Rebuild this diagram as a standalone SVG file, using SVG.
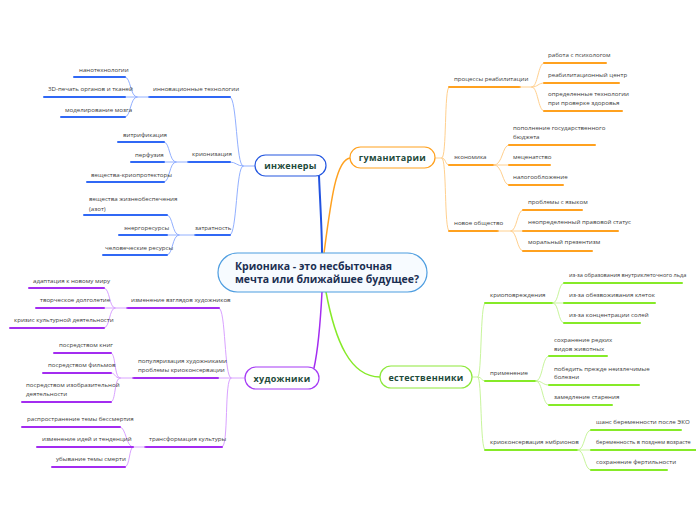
<svg xmlns="http://www.w3.org/2000/svg" width="696" height="520" viewBox="0 0 696 520">
<style>
.t{font-family:"Open Sans","Noto Sans",sans-serif;font-size:6.15px;fill:#3a3a3a}
.s{font-size:5.6px}
.n{font-family:"Open Sans","Noto Sans",sans-serif;font-weight:700;font-size:9px;fill:#1d4a3a;text-anchor:middle;letter-spacing:0.3px}
.c{font-family:"Open Sans","Noto Sans",sans-serif;font-weight:700;font-size:10.5px;fill:#1b2f52}
path{fill:none;stroke-linecap:round}
.ub{stroke:#3068f5;stroke-width:2}
.lb{stroke:#92b0ff;stroke-width:1}
.uo{stroke:#ffa11f;stroke-width:2}
.lo{stroke:#ffd08e;stroke-width:1}
.up{stroke:#a32cf0;stroke-width:2}
.lp{stroke:#d9a2ff;stroke-width:1}
.ug{stroke:#86ea28;stroke-width:2}
.lg{stroke:#c8f59c;stroke-width:1}
</style>
<rect width="696" height="520" fill="#fff"/>
<g id="connectors">
<path d="M319,176 C320,200 322,230 322,253" stroke="#2152e0" stroke-width="2"/>
<path d="M324,253 C331,200 336,160 350,158" stroke="#ffa11f" stroke-width="1.5"/>
<path d="M322,292 C320,330 318,350 314,368" stroke="#a32cf0" stroke-width="1.5"/>
<path d="M326,292 C335,340 350,377 380,377" stroke="#86ea28" stroke-width="1.5"/>
<path class="lb" d="M255,166 L243,166"/>
<path class="lb" d="M243,166 C236,166 237,97 230,97"/>
<path class="lb" d="M243,166 C237,166 236,162 230,162"/>
<path class="lb" d="M243,166 C236,166 237,235 230,235"/>
<path class="ub" d="M149,97 L230,97"/>
<path class="ub" d="M188,162 L230,162"/>
<path class="ub" d="M195,235 L230,235"/>
<path class="lb" d="M125,97 L149,97"/>
<path class="lb" d="M137,97 C130,97 131,77 125,77"/>
<path class="lb" d="M137,97 C130,97 131,117 125,117"/>
<path class="ub" d="M74,77 L125,77"/>
<path class="ub" d="M44,97 L125,97"/>
<path class="ub" d="M61,117 L125,117"/>
<path class="lb" d="M164,162 L188,162"/>
<path class="lb" d="M176,162 C169,162 170,142 164,142"/>
<path class="lb" d="M176,162 C169,162 170,182 164,182"/>
<path class="ub" d="M118,142 L164,142"/>
<path class="ub" d="M131,162 L164,162"/>
<path class="ub" d="M87,182 L164,182"/>
<path class="lb" d="M167,235 L195,235"/>
<path class="lb" d="M179,235 C172,235 173,215 167,215"/>
<path class="lb" d="M179,235 C172,235 173,255 167,255"/>
<path class="ub" d="M84,215 L167,215"/>
<path class="ub" d="M119,235 L167,235"/>
<path class="ub" d="M103,255 L167,255"/>
<path class="lp" d="M245,378 L218,378"/>
<path class="lp" d="M231,378 C224,378 226,308 219,308"/>
<path class="lp" d="M231,378 C224,378 229,447 222,447"/>
<path class="up" d="M127,308 L219,308"/>
<path class="up" d="M133,378 L218,378"/>
<path class="up" d="M145,447 L222,447"/>
<path class="lp" d="M104,308 L127,308"/>
<path class="lp" d="M115,308 C109,308 110,288 104,288"/>
<path class="lp" d="M115,308 C109,308 110,328 104,328"/>
<path class="up" d="M29,288 L104,288"/>
<path class="up" d="M36,308 L104,308"/>
<path class="up" d="M10,328 L104,328"/>
<path class="lp" d="M120,378 L133,378"/>
<path class="lp" d="M120,378 C114,378 116,353 111,353"/>
<path class="lp" d="M120,378 C114,378 116,373 111,373"/>
<path class="lp" d="M120,378 C114,378 116,402 111,402"/>
<path class="up" d="M54,353 L111,353"/>
<path class="up" d="M43,373 L111,373"/>
<path class="up" d="M22,402 L111,402"/>
<path class="lp" d="M133,447 L145,447"/>
<path class="lp" d="M133,447 C126,447 126,427 120,427"/>
<path class="lp" d="M133,447 C129,447 130,467 125,467"/>
<path class="up" d="M22,427 L120,427"/>
<path class="up" d="M37,447 L133,447"/>
<path class="up" d="M52,467 L125,467"/>
<path class="lo" d="M435,158 L442,158"/>
<path class="lo" d="M442,158 C447,158 444,87 449,87"/>
<path class="lo" d="M442,158 C446,158 445,165 449,165"/>
<path class="lo" d="M442,158 C447,158 444,231 449,231"/>
<path class="uo" d="M449,87 L520,87"/>
<path class="uo" d="M449,165 L494,165"/>
<path class="uo" d="M449,231 L498,231"/>
<path class="lo" d="M520,87 L532,87"/>
<path class="lo" d="M532,87 C538,87 538,63 544,63"/>
<path class="lo" d="M532,87 C538,87 538,83 544,83"/>
<path class="lo" d="M532,87 C538,87 538,111 544,111"/>
<path class="uo" d="M544,63 L606,63"/>
<path class="uo" d="M544,83 L619,83"/>
<path class="uo" d="M544,111 L622,111"/>
<path class="lo" d="M494,165 C503,165 502,145 509,145"/>
<path class="lo" d="M494,165 L509,165"/>
<path class="lo" d="M494,165 C503,165 502,185 509,185"/>
<path class="uo" d="M509,145 L595,145"/>
<path class="uo" d="M509,165 L550,165"/>
<path class="uo" d="M509,185 L563,185"/>
<path class="lo" d="M498,231 L523,231"/>
<path class="lo" d="M511,231 C517,231 517,210 523,210"/>
<path class="lo" d="M511,231 C517,231 517,251 523,251"/>
<path class="uo" d="M523,210 L582,210"/>
<path class="uo" d="M523,231 L618,231"/>
<path class="uo" d="M523,251 L592,251"/>
<path class="lg" d="M472,377 L478,377"/>
<path class="lg" d="M478,377 C482,377 480,303 485,303"/>
<path class="lg" d="M478,377 C482,377 481,381 485,381"/>
<path class="lg" d="M478,377 C482,377 480,450 485,450"/>
<path class="ug" d="M485,303 L553,303"/>
<path class="ug" d="M485,381 L536,381"/>
<path class="ug" d="M485,450 L578,450"/>
<path class="lg" d="M553,303 C559,303 558,283 564,283"/>
<path class="lg" d="M553,303 L564,303"/>
<path class="lg" d="M553,303 C559,303 558,323 564,323"/>
<path class="ug" d="M564,283 L682,283"/>
<path class="ug" d="M564,303 L655,303"/>
<path class="ug" d="M564,323 L640,323"/>
<path class="lg" d="M536,381 C543,381 542,356 549,356"/>
<path class="lg" d="M536,381 C543,381 542,385 549,385"/>
<path class="lg" d="M536,381 C543,381 542,405 549,405"/>
<path class="ug" d="M549,356 L607,356"/>
<path class="ug" d="M549,385 L639,385"/>
<path class="ug" d="M549,405 L612,405"/>
<path class="lg" d="M578,450 C585,450 584,430 591,430"/>
<path class="lg" d="M578,450 L591,450"/>
<path class="lg" d="M578,450 C585,450 584,470 591,470"/>
<path class="ug" d="M591,430 L681,430"/>
<path class="ug" d="M591,450 L696,450"/>
<path class="ug" d="M591,470 L667,470"/>
</g>
<g id="central">
<rect x="218" y="253" width="209" height="39" rx="19.5" fill="#f7fbff" stroke="#4d9de0" stroke-width="1.2"/>
<text class="c" x="235" y="270">Крионика - это несбыточная</text>
<text class="c" x="235" y="283">мечта или ближайшее будущее?</text>
</g>
<g id="engineers">
<rect x="255" y="155" width="71" height="21" rx="10.5" fill="#fff" stroke="#2457e0" stroke-width="1.2"/>
<text class="n" x="290.5" y="169">инженеры</text>
</g>
<g id="humanities">
<rect x="350" y="147" width="85" height="21" rx="10.5" fill="#fff" stroke="#ffa11f" stroke-width="1.2"/>
<text class="n" x="392.5" y="161">гуманитарии</text>
</g>
<g id="artists">
<rect x="245" y="367" width="74" height="22" rx="11" fill="#fff" stroke="#a53bf5" stroke-width="1.2"/>
<text class="n" x="282" y="382">художники</text>
</g>
<g id="naturalists">
<rect x="380" y="366" width="92" height="22" rx="11" fill="#fff" stroke="#8de83a" stroke-width="1.2"/>
<text class="n" x="426" y="381">естественники</text>
</g>
<g id="eng-topics">
<text class="t" x="153" y="91">инновационные технологии</text>
<text class="t" x="192" y="156">крионизация</text>
<text class="t" x="195" y="230">затратность</text>
<text class="t" x="79" y="72">нанотехнологии</text>
<text class="t" x="48" y="91">3D-печать органов и тканей</text>
<text class="t" x="65" y="112">моделирование мозга</text>
<text class="t" x="123" y="137">витрификация</text>
<text class="t" x="135" y="157">перфузия</text>
<text class="t" x="91" y="177">вещества-криопротекторы</text>
<text class="t" x="89" y="201">вещества жизнеобеспечения</text>
<text class="t" x="89" y="211">(азот)</text>
<text class="t" x="124" y="230">энергоресурсы</text>
<text class="t" x="105" y="250">человеческие ресурсы</text>
</g>
<g id="art-topics">
<text class="t" x="131" y="302">изменение взглядов художников</text>
<text class="t" x="33" y="283">адаптация к новому миру</text>
<text class="t" x="40" y="302">творческое долголетие</text>
<text class="t" x="14" y="322">кризис культурной деятельности</text>
<text class="t" x="138" y="363">популяризация художниками</text>
<text class="t" x="138" y="372">проблемы криоконсервации</text>
<text class="t" x="59" y="347">посредством книг</text>
<text class="t" x="48" y="367">посредством фильмов</text>
<text class="t" x="26" y="387">посредством изобразительной</text>
<text class="t" x="26" y="396">деятельности</text>
<text class="t" x="149" y="441">трансформация культуры</text>
<text class="t" x="27" y="421">распространение темы бессмертия</text>
<text class="t" x="42" y="441">изменение идей и тенденций</text>
<text class="t" x="56" y="461">убывание темы смерти</text>
</g>
<g id="hum-topics">
<text class="t" x="454" y="81">процессы реабилитации</text>
<text class="t" x="548" y="57">работа с психологом</text>
<text class="t" x="548" y="77">реабилитационный центр</text>
<text class="t" x="548" y="96">определенные технологии</text>
<text class="t" x="548" y="105">при проверке здоровья</text>
<text class="t" x="454" y="159">экономика</text>
<text class="t" x="513" y="130">пополнение государственного</text>
<text class="t" x="513" y="139">бюджета</text>
<text class="t" x="513" y="159">меценатство</text>
<text class="t" x="513" y="179">налогообложение</text>
<text class="t" x="454" y="225">новое общество</text>
<text class="t" x="528" y="204">проблемы с языком</text>
<text class="t" x="528" y="224">неопределенный правовой статус</text>
<text class="t" x="528" y="244">моральный презентизм</text>
</g>
<g id="nat-topics">
<text class="t" x="490" y="297">криоповреждения</text>
<text class="t s" x="569" y="277">из-за образования внутриклеточного льда</text>
<text class="t" x="569" y="297">из-за обезвоживания клеток</text>
<text class="t" x="569" y="317">из-за концентрации солей</text>
<text class="t" x="490" y="375">применение</text>
<text class="t" x="554" y="342">сохранение редких</text>
<text class="t" x="554" y="351"> видов животных</text>
<text class="t" x="554" y="371">победить прежде неизлечимые</text>
<text class="t" x="554" y="379">болезни</text>
<text class="t" x="554" y="399">замедление старения</text>
<text class="t" x="490" y="444">криоконсервация эмбрионов</text>
<text class="t" x="596" y="424">шанс беременности после ЭКО</text>
<text class="t s" x="596" y="444">беременность в позднем возрасте</text>
<text class="t" x="596" y="464">сохранение фертильности</text>
</g>
</svg>
